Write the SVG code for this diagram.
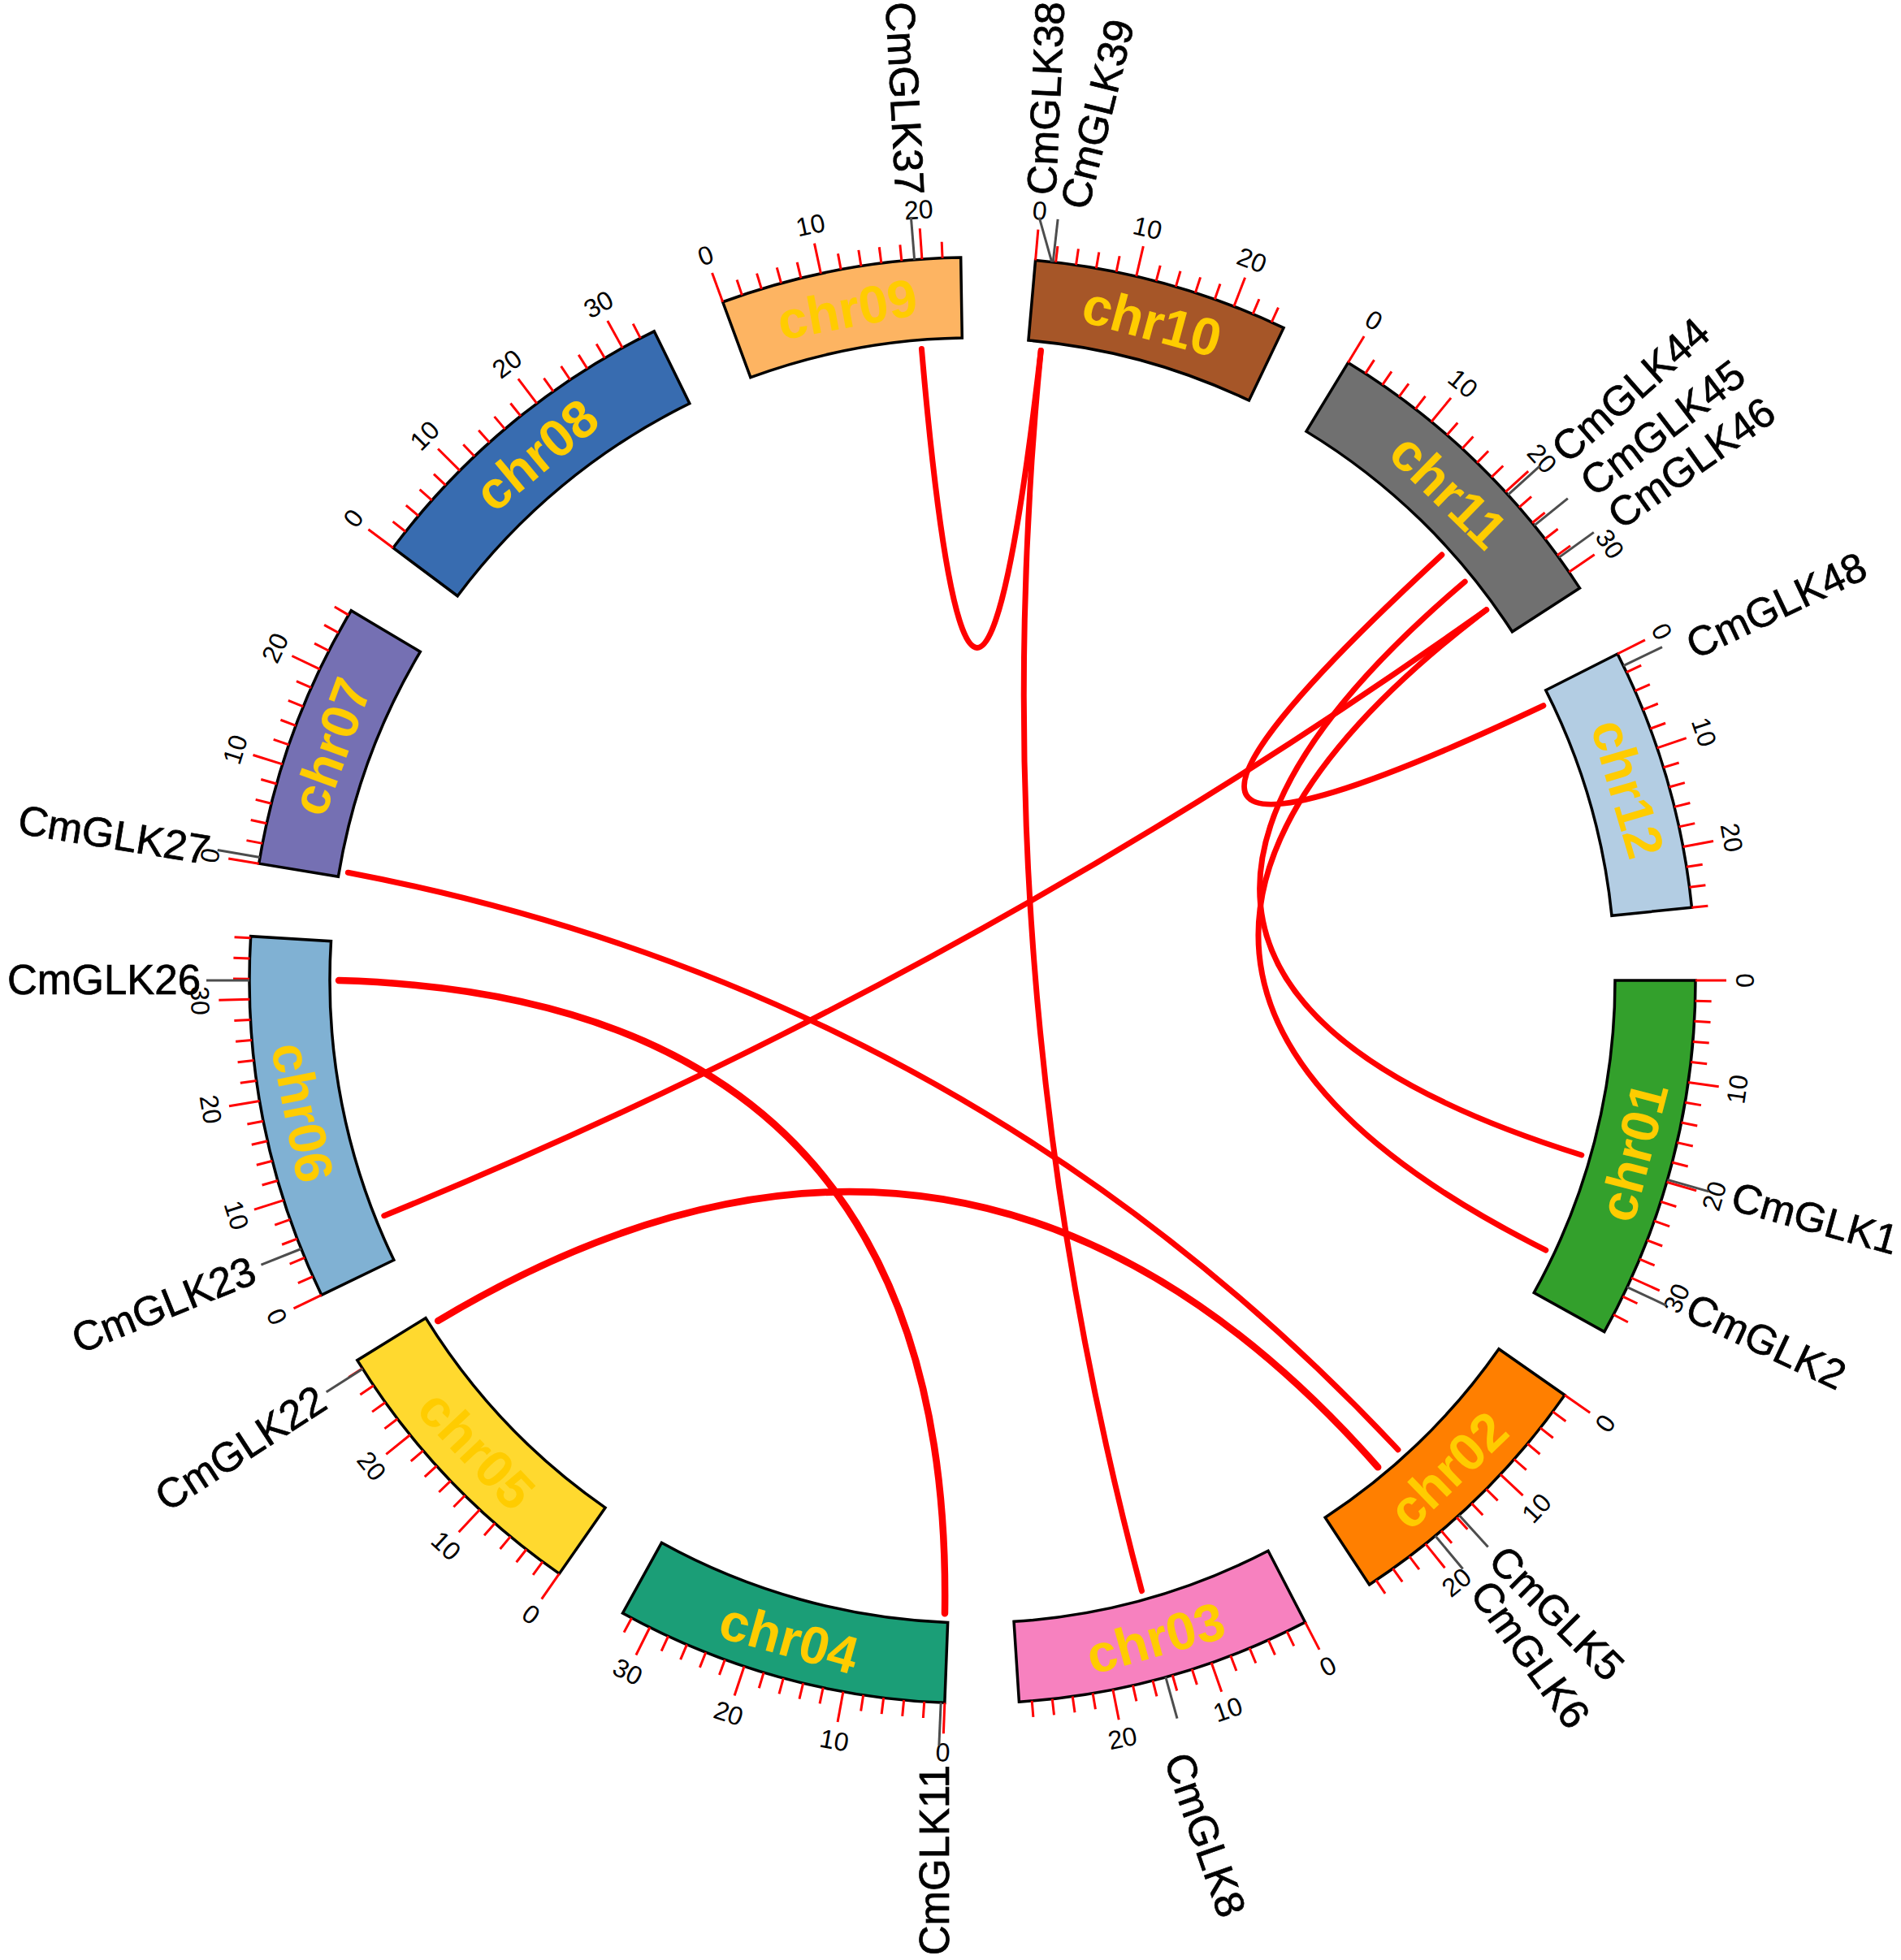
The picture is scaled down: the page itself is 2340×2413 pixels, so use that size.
<svg xmlns="http://www.w3.org/2000/svg" width="2340" height="2413" viewBox="0 0 2340 2413">
<style>
.chr{stroke:#000;stroke-width:3.5;stroke-linejoin:miter}
.cl{font-family:"Liberation Sans",Arial,sans-serif;font-weight:bold;font-size:65px;fill:#FFCC00;text-anchor:middle;dominant-baseline:central}
.tk{stroke:#FF0000;stroke-width:3}
.tl{font-family:"Liberation Sans",Arial,sans-serif;font-size:32px;fill:#000;text-anchor:middle;dominant-baseline:central}
.gl{stroke:#4D4D4D;stroke-width:3}
.gn{font-family:"Liberation Sans",Arial,sans-serif;font-size:51px;fill:#000;stroke:#000;stroke-width:0.7;dominant-baseline:central}
.e{text-anchor:end}
.lk{fill:none;stroke:#FF0000;stroke-width:7;stroke-linecap:round}
</style>
<defs>
<line id="mi" x1="2087" y1="1207" x2="2107" y2="1207"/>
<line id="ma" x1="2087" y1="1207" x2="2125" y2="1207"/>
<line id="gm" x1="2087" y1="1207" x2="2140" y2="1207"/>
</defs>
<rect width="2340" height="2413" fill="#fff"/>

<g id="links">
<path class="lk" d="M1134.44 429.51Q1197.6 1164.3 1281.24 431.56"/>
<path class="lk" d="M1281.24 431.56Q1205.05 1206.35 1405.45 1958.63"/>
<path class="lk" d="M1774.82 683.06Q1232.22 1183.29 1899.84 868.75"/>
<path class="lk" d="M1803.18 716.13Q1234.29 1199.41 1946.78 1422"/>
<path class="lk" d="M1829.63 750.73Q1233.81 1203.59 1902.77 1539.11"/>
<path class="lk" d="M1829.63 750.73Q1194.48 1202.42 472.78 1496.67"/>
<path class="lk" d="M428.38 1074.24Q1190.27 1219.24 1720.94 1784.82"/>
<path class="lk" d="M539.16 1626.09Q1192.64 1235.01 1696.16 1806.37" style="stroke-width:8.5"/>
<path class="lk" d="M417 1207Q1174.61 1228.43 1162.98 1986.26" style="stroke-width:8.5"/>
</g>

<g id="chr01">
<path class="chr" fill="#33A02C" d="M1988 1207L2087 1207A890 890 0 0 1 1974.81 1639.57L1888.29 1591.45A791 791 0 0 0 1988 1207Z"/>
<g class="tk">
<use href="#ma"/><use href="#ma" transform="rotate(8.1 1197 1207)"/><use href="#ma" transform="rotate(16.2 1197 1207)"/><use href="#ma" transform="rotate(24.3 1197 1207)"/>
<use href="#mi" transform="rotate(1.62 1197 1207)"/><use href="#mi" transform="rotate(3.24 1197 1207)"/><use href="#mi" transform="rotate(4.86 1197 1207)"/><use href="#mi" transform="rotate(6.48 1197 1207)"/><use href="#mi" transform="rotate(9.72 1197 1207)"/><use href="#mi" transform="rotate(11.34 1197 1207)"/><use href="#mi" transform="rotate(12.96 1197 1207)"/><use href="#mi" transform="rotate(14.58 1197 1207)"/><use href="#mi" transform="rotate(17.82 1197 1207)"/><use href="#mi" transform="rotate(19.44 1197 1207)"/><use href="#mi" transform="rotate(21.06 1197 1207)"/><use href="#mi" transform="rotate(22.68 1197 1207)"/><use href="#mi" transform="rotate(25.92 1197 1207)"/><use href="#mi" transform="rotate(27.54 1197 1207)"/>
</g>
<g class="tl">
<text transform="translate(2148 1207) rotate(-90)">0</text>
<text transform="rotate(8.1 1197 1207) translate(2148 1207) rotate(-90)">10</text>
<text transform="rotate(16.2 1197 1207) translate(2148 1207) rotate(-90)">20</text>
<text transform="rotate(24.3 1197 1207) translate(2148 1207) rotate(-90)">30</text>
</g>
<text class="cl" transform="rotate(14.54 1197 1207) translate(2037.5 1207) rotate(-90)">chr01</text>
<g class="gl"><use href="#gm" transform="rotate(16 1197 1207)"/><use href="#gm" transform="rotate(25.1 1197 1207)"/></g>
<text class="gn" transform="translate(2133 1472) rotate(15.5)">CmGLK1</text>
<text class="gn" transform="translate(2079 1607) rotate(25.2)">CmGLK2</text>
</g>

<g id="chr02">
<path class="chr" fill="#FF7F00" transform="rotate(35 1197 1207)" d="M1988 1207L2087 1207A890 890 0 0 1 2023.88 1536.19L1931.9 1499.58A791 791 0 0 0 1988 1207Z"/>
<g class="tk">
<use href="#ma" transform="rotate(35 1197 1207)"/><use href="#ma" transform="rotate(43.1 1197 1207)"/><use href="#ma" transform="rotate(51.2 1197 1207)"/>
<use href="#mi" transform="rotate(36.62 1197 1207)"/><use href="#mi" transform="rotate(38.24 1197 1207)"/><use href="#mi" transform="rotate(39.86 1197 1207)"/><use href="#mi" transform="rotate(41.48 1197 1207)"/><use href="#mi" transform="rotate(44.72 1197 1207)"/><use href="#mi" transform="rotate(46.34 1197 1207)"/><use href="#mi" transform="rotate(47.96 1197 1207)"/><use href="#mi" transform="rotate(49.58 1197 1207)"/><use href="#mi" transform="rotate(52.82 1197 1207)"/><use href="#mi" transform="rotate(54.44 1197 1207)"/><use href="#mi" transform="rotate(56.06 1197 1207)"/>
</g>
<g class="tl">
<text transform="rotate(35 1197 1207) translate(2148 1207) rotate(-90)">0</text>
<text transform="rotate(43.1 1197 1207) translate(2148 1207) rotate(-90)">10</text>
<text transform="rotate(51.2 1197 1207) translate(2148 1207) rotate(-90)">20</text>
</g>
<text class="cl" transform="rotate(45.85 1197 1207) translate(2037.5 1207) rotate(-90)">chr02</text>
<g class="gl"><use href="#gm" transform="rotate(47.7 1197 1207)"/><use href="#gm" transform="rotate(50.2 1197 1207)"/></g>
<text class="gn" transform="translate(1842 1912) rotate(45)">CmGLK5</text>
<text class="gn" transform="translate(1822 1952) rotate(54)">CmGLK6</text>
</g>

<g id="chr03">
<path class="chr" fill="#F781BF" transform="rotate(62.6 1197 1207)" d="M1988 1207L2087 1207A890 890 0 0 1 2011.95 1564.74L1921.3 1524.94A791 791 0 0 0 1988 1207Z"/>
<g class="tk">
<use href="#ma" transform="rotate(62.6 1197 1207)"/><use href="#ma" transform="rotate(70.7 1197 1207)"/><use href="#ma" transform="rotate(78.8 1197 1207)"/>
<use href="#mi" transform="rotate(64.22 1197 1207)"/><use href="#mi" transform="rotate(65.84 1197 1207)"/><use href="#mi" transform="rotate(67.46 1197 1207)"/><use href="#mi" transform="rotate(69.08 1197 1207)"/><use href="#mi" transform="rotate(72.32 1197 1207)"/><use href="#mi" transform="rotate(73.94 1197 1207)"/><use href="#mi" transform="rotate(75.56 1197 1207)"/><use href="#mi" transform="rotate(77.18 1197 1207)"/><use href="#mi" transform="rotate(80.42 1197 1207)"/><use href="#mi" transform="rotate(82.04 1197 1207)"/><use href="#mi" transform="rotate(83.66 1197 1207)"/><use href="#mi" transform="rotate(85.28 1197 1207)"/>
</g>
<g class="tl">
<text transform="rotate(62.6 1197 1207) translate(2148 1207) rotate(-90)">0</text>
<text transform="rotate(70.7 1197 1207) translate(2148 1207) rotate(-90)">10</text>
<text transform="rotate(78.8 1197 1207) translate(2148 1207) rotate(-90)">20</text>
</g>
<text class="cl" transform="rotate(74.45 1197 1207) translate(2037.5 1207) rotate(-90)">chr03</text>
<g class="gl"><use href="#gm" transform="rotate(74.5 1197 1207)"/></g>
<text class="gn" transform="translate(1449 2160) rotate(70.8)">CmGLK8</text>
</g>

<g id="chr04">
<path class="chr" fill="#1B9E77" transform="rotate(92.2 1197 1207)" d="M1988 1207L2087 1207A890 890 0 0 1 1991.9 1607.31L1903.48 1562.78A791 791 0 0 0 1988 1207Z"/>
<g class="tk">
<use href="#ma" transform="rotate(92.2 1197 1207)"/><use href="#ma" transform="rotate(100.3 1197 1207)"/><use href="#ma" transform="rotate(108.4 1197 1207)"/><use href="#ma" transform="rotate(116.5 1197 1207)"/>
<use href="#mi" transform="rotate(93.82 1197 1207)"/><use href="#mi" transform="rotate(95.44 1197 1207)"/><use href="#mi" transform="rotate(97.06 1197 1207)"/><use href="#mi" transform="rotate(98.68 1197 1207)"/><use href="#mi" transform="rotate(101.92 1197 1207)"/><use href="#mi" transform="rotate(103.54 1197 1207)"/><use href="#mi" transform="rotate(105.16 1197 1207)"/><use href="#mi" transform="rotate(106.78 1197 1207)"/><use href="#mi" transform="rotate(110.02 1197 1207)"/><use href="#mi" transform="rotate(111.64 1197 1207)"/><use href="#mi" transform="rotate(113.26 1197 1207)"/><use href="#mi" transform="rotate(114.88 1197 1207)"/><use href="#mi" transform="rotate(118.12 1197 1207)"/>
</g>
<g class="tl">
<text transform="rotate(92.2 1197 1207) translate(2148 1207) rotate(-90)">0</text>
<text transform="rotate(100.3 1197 1207) translate(2148 1207) rotate(-90)">10</text>
<text transform="rotate(108.4 1197 1207) translate(2148 1207) rotate(-90)">20</text>
<text transform="rotate(116.5 1197 1207) translate(2148 1207) rotate(-90)">30</text>
</g>
<text class="cl" transform="rotate(105.57 1197 1207) translate(2037.5 1207) rotate(-90)">chr04</text>
<g class="gl"><use href="#gm" transform="rotate(92.5 1197 1207)"/></g>
<text class="gn e" transform="translate(1150 2173) rotate(-90)">CmGLK11</text>
</g>

<g id="chr05">
<path class="chr" fill="#FFD92F" transform="rotate(124.85 1197 1207)" d="M1988 1207L2087 1207A890 890 0 0 1 2013.49 1561.18L1922.67 1521.78A791 791 0 0 0 1988 1207Z"/>
<g class="tk">
<use href="#ma" transform="rotate(124.85 1197 1207)"/><use href="#ma" transform="rotate(132.95 1197 1207)"/><use href="#ma" transform="rotate(141.05 1197 1207)"/>
<use href="#mi" transform="rotate(126.47 1197 1207)"/><use href="#mi" transform="rotate(128.09 1197 1207)"/><use href="#mi" transform="rotate(129.71 1197 1207)"/><use href="#mi" transform="rotate(131.33 1197 1207)"/><use href="#mi" transform="rotate(134.57 1197 1207)"/><use href="#mi" transform="rotate(136.19 1197 1207)"/><use href="#mi" transform="rotate(137.81 1197 1207)"/><use href="#mi" transform="rotate(139.43 1197 1207)"/><use href="#mi" transform="rotate(142.67 1197 1207)"/><use href="#mi" transform="rotate(144.29 1197 1207)"/><use href="#mi" transform="rotate(145.91 1197 1207)"/><use href="#mi" transform="rotate(147.53 1197 1207)"/>
</g>
<g class="tl">
<text transform="rotate(124.85 1197 1207) translate(2148 1207) rotate(-90)">0</text>
<text transform="rotate(132.95 1197 1207) translate(2148 1207) rotate(-90)">10</text>
<text transform="rotate(141.05 1197 1207) translate(2148 1207) rotate(-90)">20</text>
</g>
<text class="cl" transform="rotate(136.58 1197 1207) translate(2037.5 1207) rotate(-90)">chr05</text>
<g class="gl"><use href="#gm" transform="rotate(147.5 1197 1207)"/></g>
<text class="gn e" transform="translate(396 1718) rotate(-33)">CmGLK22</text>
</g>

<g id="chr06">
<path class="chr" fill="#80B1D3" transform="rotate(154.2 1197 1207)" d="M1988 1207L2087 1207A890 890 0 0 1 1973.14 1642.55L1886.81 1594.1A791 791 0 0 0 1988 1207Z"/>
<g class="tk">
<use href="#ma" transform="rotate(154.2 1197 1207)"/><use href="#ma" transform="rotate(162.3 1197 1207)"/><use href="#ma" transform="rotate(170.4 1197 1207)"/><use href="#ma" transform="rotate(178.5 1197 1207)"/>
<use href="#mi" transform="rotate(155.82 1197 1207)"/><use href="#mi" transform="rotate(157.44 1197 1207)"/><use href="#mi" transform="rotate(159.06 1197 1207)"/><use href="#mi" transform="rotate(160.68 1197 1207)"/><use href="#mi" transform="rotate(163.92 1197 1207)"/><use href="#mi" transform="rotate(165.54 1197 1207)"/><use href="#mi" transform="rotate(167.16 1197 1207)"/><use href="#mi" transform="rotate(168.78 1197 1207)"/><use href="#mi" transform="rotate(172.02 1197 1207)"/><use href="#mi" transform="rotate(173.64 1197 1207)"/><use href="#mi" transform="rotate(175.26 1197 1207)"/><use href="#mi" transform="rotate(176.88 1197 1207)"/><use href="#mi" transform="rotate(180.12 1197 1207)"/><use href="#mi" transform="rotate(181.74 1197 1207)"/><use href="#mi" transform="rotate(183.36 1197 1207)"/>
</g>
<g class="tl">
<text transform="rotate(154.2 1197 1207) translate(2148 1207) rotate(-90)">0</text>
<text transform="rotate(162.3 1197 1207) translate(2148 1207) rotate(-90)">10</text>
<text transform="rotate(170.4 1197 1207) translate(2148 1207) rotate(-90)">20</text>
<text transform="rotate(178.5 1197 1207) translate(2148 1207) rotate(-90)">30</text>
</g>
<text class="cl" transform="rotate(168.85 1197 1207) translate(2037.5 1207) rotate(-90)">chr06</text>
<g class="gl"><use href="#gm" transform="rotate(158.2 1197 1207)"/><use href="#gm" transform="rotate(180 1197 1207)"/></g>
<text class="gn e" transform="translate(312 1562) rotate(-21.9)">CmGLK23</text>
<text class="gn e" transform="translate(247 1206)">CmGLK26</text>
</g>

<g id="chr07">
<path class="chr" fill="#7570B3" transform="rotate(189.3 1197 1207)" d="M1988 1207L2087 1207A890 890 0 0 1 2025.27 1532.69L1933.14 1496.46A791 791 0 0 0 1988 1207Z"/>
<g class="tk">
<use href="#ma" transform="rotate(189.3 1197 1207)"/><use href="#ma" transform="rotate(197.4 1197 1207)"/><use href="#ma" transform="rotate(205.5 1197 1207)"/>
<use href="#mi" transform="rotate(190.92 1197 1207)"/><use href="#mi" transform="rotate(192.54 1197 1207)"/><use href="#mi" transform="rotate(194.16 1197 1207)"/><use href="#mi" transform="rotate(195.78 1197 1207)"/><use href="#mi" transform="rotate(199.02 1197 1207)"/><use href="#mi" transform="rotate(200.64 1197 1207)"/><use href="#mi" transform="rotate(202.26 1197 1207)"/><use href="#mi" transform="rotate(203.88 1197 1207)"/><use href="#mi" transform="rotate(207.12 1197 1207)"/><use href="#mi" transform="rotate(208.74 1197 1207)"/><use href="#mi" transform="rotate(210.36 1197 1207)"/>
</g>
<g class="tl">
<text transform="rotate(189.3 1197 1207) translate(2148 1207) rotate(90)">0</text>
<text transform="rotate(197.4 1197 1207) translate(2148 1207) rotate(90)">10</text>
<text transform="rotate(205.5 1197 1207) translate(2148 1207) rotate(90)">20</text>
</g>
<text class="cl" transform="rotate(200.03 1197 1207) translate(2037.5 1207) rotate(90)">chr07</text>
<g class="gl"><use href="#gm" transform="rotate(189.8 1197 1207)"/></g>
<text class="gn e" transform="translate(258 1047) rotate(9.3)">CmGLK27</text>
</g>

<g id="chr08">
<path class="chr" fill="#386CB0" transform="rotate(216.75 1197 1207)" d="M1988 1207L2087 1207A890 890 0 0 1 1989.05 1612.92L1900.94 1567.77A791 791 0 0 0 1988 1207Z"/>
<g class="tk">
<use href="#ma" transform="rotate(216.75 1197 1207)"/><use href="#ma" transform="rotate(224.85 1197 1207)"/><use href="#ma" transform="rotate(232.95 1197 1207)"/><use href="#ma" transform="rotate(241.05 1197 1207)"/>
<use href="#mi" transform="rotate(218.37 1197 1207)"/><use href="#mi" transform="rotate(219.99 1197 1207)"/><use href="#mi" transform="rotate(221.61 1197 1207)"/><use href="#mi" transform="rotate(223.23 1197 1207)"/><use href="#mi" transform="rotate(226.47 1197 1207)"/><use href="#mi" transform="rotate(228.09 1197 1207)"/><use href="#mi" transform="rotate(229.71 1197 1207)"/><use href="#mi" transform="rotate(231.33 1197 1207)"/><use href="#mi" transform="rotate(234.57 1197 1207)"/><use href="#mi" transform="rotate(236.19 1197 1207)"/><use href="#mi" transform="rotate(237.81 1197 1207)"/><use href="#mi" transform="rotate(239.43 1197 1207)"/><use href="#mi" transform="rotate(242.67 1197 1207)"/>
</g>
<g class="tl">
<text transform="rotate(216.75 1197 1207) translate(2148 1207) rotate(90)">0</text>
<text transform="rotate(224.85 1197 1207) translate(2148 1207) rotate(90)">10</text>
<text transform="rotate(232.95 1197 1207) translate(2148 1207) rotate(90)">20</text>
<text transform="rotate(241.05 1197 1207) translate(2148 1207) rotate(90)">30</text>
</g>
<text class="cl" transform="rotate(230.32 1197 1207) translate(2037.5 1207) rotate(90)">chr08</text>
</g>

<g id="chr09">
<path class="chr" fill="#FDB462" transform="rotate(249.8 1197 1207)" d="M1988 1207L2087 1207A890 890 0 0 1 2037.11 1500.84L1943.66 1468.16A791 791 0 0 0 1988 1207Z"/>
<g class="tk">
<use href="#ma" transform="rotate(249.8 1197 1207)"/><use href="#ma" transform="rotate(257.9 1197 1207)"/><use href="#ma" transform="rotate(266 1197 1207)"/>
<use href="#mi" transform="rotate(251.42 1197 1207)"/><use href="#mi" transform="rotate(253.04 1197 1207)"/><use href="#mi" transform="rotate(254.66 1197 1207)"/><use href="#mi" transform="rotate(256.28 1197 1207)"/><use href="#mi" transform="rotate(259.52 1197 1207)"/><use href="#mi" transform="rotate(261.14 1197 1207)"/><use href="#mi" transform="rotate(262.76 1197 1207)"/><use href="#mi" transform="rotate(264.38 1197 1207)"/><use href="#mi" transform="rotate(267.62 1197 1207)"/>
</g>
<g class="tl">
<text transform="rotate(249.8 1197 1207) translate(2148 1207) rotate(90)">0</text>
<text transform="rotate(257.9 1197 1207) translate(2148 1207) rotate(90)">10</text>
<text transform="rotate(266 1197 1207) translate(2148 1207) rotate(90)">20</text>
</g>
<text class="cl" transform="rotate(259.44 1197 1207) translate(2037.5 1207) rotate(90)">chr09</text>
<g class="gl"><use href="#gm" transform="rotate(265.4 1197 1207)"/></g>
<text class="gn e" transform="translate(1120 240) rotate(87)">CmGLK37</text>
</g>

<g id="chr10">
<path class="chr" fill="#A65628" transform="rotate(275 1197 1207)" d="M1988 1207L2087 1207A890 890 0 0 1 2030.67 1518.58L1937.94 1483.92A791 791 0 0 0 1988 1207Z"/>
<g class="tk">
<use href="#ma" transform="rotate(275 1197 1207)"/><use href="#ma" transform="rotate(283.1 1197 1207)"/><use href="#ma" transform="rotate(291.2 1197 1207)"/>
<use href="#mi" transform="rotate(276.62 1197 1207)"/><use href="#mi" transform="rotate(278.24 1197 1207)"/><use href="#mi" transform="rotate(279.86 1197 1207)"/><use href="#mi" transform="rotate(281.48 1197 1207)"/><use href="#mi" transform="rotate(284.72 1197 1207)"/><use href="#mi" transform="rotate(286.34 1197 1207)"/><use href="#mi" transform="rotate(287.96 1197 1207)"/><use href="#mi" transform="rotate(289.58 1197 1207)"/><use href="#mi" transform="rotate(292.82 1197 1207)"/><use href="#mi" transform="rotate(294.44 1197 1207)"/>
</g>
<g class="tl">
<text transform="rotate(275 1197 1207) translate(2148 1207) rotate(90)">0</text>
<text transform="rotate(283.1 1197 1207) translate(2148 1207) rotate(90)">10</text>
<text transform="rotate(291.2 1197 1207) translate(2148 1207) rotate(90)">20</text>
</g>
<text class="cl" transform="rotate(285.25 1197 1207) translate(2037.5 1207) rotate(90)">chr10</text>
<g class="gl"><line x1="1294.66" y1="322.38" x2="1279.19" y2="267.59"/><use href="#gm" transform="rotate(276.4 1197 1207)"/></g>
<text class="gn" transform="translate(1282 240) rotate(-87.4)">CmGLK38</text>
<text class="gn" transform="translate(1322 256) rotate(-76)">CmGLK39</text>
</g>

<g id="chr11">
<path class="chr" fill="#707070" transform="rotate(301.3 1197 1207)" d="M1988 1207L2087 1207A890 890 0 0 1 1998.02 1594.9L1908.92 1551.75A791 791 0 0 0 1988 1207Z"/>
<g class="tk">
<use href="#ma" transform="rotate(301.3 1197 1207)"/><use href="#ma" transform="rotate(309.4 1197 1207)"/><use href="#ma" transform="rotate(317.5 1197 1207)"/><use href="#ma" transform="rotate(325.6 1197 1207)"/>
<use href="#mi" transform="rotate(302.92 1197 1207)"/><use href="#mi" transform="rotate(304.54 1197 1207)"/><use href="#mi" transform="rotate(306.16 1197 1207)"/><use href="#mi" transform="rotate(307.78 1197 1207)"/><use href="#mi" transform="rotate(311.02 1197 1207)"/><use href="#mi" transform="rotate(312.64 1197 1207)"/><use href="#mi" transform="rotate(314.26 1197 1207)"/><use href="#mi" transform="rotate(315.88 1197 1207)"/><use href="#mi" transform="rotate(319.12 1197 1207)"/><use href="#mi" transform="rotate(320.74 1197 1207)"/><use href="#mi" transform="rotate(322.36 1197 1207)"/><use href="#mi" transform="rotate(323.98 1197 1207)"/>
</g>
<g class="tl">
<text transform="rotate(301.3 1197 1207) translate(2148 1207) rotate(90)">0</text>
<text transform="rotate(309.4 1197 1207) translate(2148 1207) rotate(90)">10</text>
<text transform="rotate(317.5 1197 1207) translate(2148 1207) rotate(90)">20</text>
<text transform="rotate(325.6 1197 1207) translate(2148 1207) rotate(90)">30</text>
</g>
<text class="cl" transform="rotate(314.22 1197 1207) translate(2037.5 1207) rotate(90)">chr11</text>
<g class="gl"><use href="#gm" transform="rotate(317.8 1197 1207)"/><use href="#gm" transform="rotate(321 1197 1207)"/><use href="#gm" transform="rotate(324.2 1197 1207)"/></g>
<text class="gn" transform="translate(1918 559) rotate(-41.5)">CmGLK44</text>
<text class="gn" transform="translate(1952 599) rotate(-37.3)">CmGLK45</text>
<text class="gn" transform="translate(1985 639) rotate(-35.4)">CmGLK46</text>
</g>

<g id="chr12">
<path class="chr" fill="#B3CDE3" transform="rotate(333.15 1197 1207)" d="M1988 1207L2087 1207A890 890 0 0 1 2027.55 1526.82L1935.16 1491.25A791 791 0 0 0 1988 1207Z"/>
<g class="tk">
<use href="#ma" transform="rotate(333.15 1197 1207)"/><use href="#ma" transform="rotate(341.25 1197 1207)"/><use href="#ma" transform="rotate(349.35 1197 1207)"/>
<use href="#mi" transform="rotate(334.77 1197 1207)"/><use href="#mi" transform="rotate(336.39 1197 1207)"/><use href="#mi" transform="rotate(338.01 1197 1207)"/><use href="#mi" transform="rotate(339.63 1197 1207)"/><use href="#mi" transform="rotate(342.87 1197 1207)"/><use href="#mi" transform="rotate(344.49 1197 1207)"/><use href="#mi" transform="rotate(346.11 1197 1207)"/><use href="#mi" transform="rotate(347.73 1197 1207)"/><use href="#mi" transform="rotate(350.97 1197 1207)"/><use href="#mi" transform="rotate(352.59 1197 1207)"/><use href="#mi" transform="rotate(354.21 1197 1207)"/>
</g>
<g class="tl">
<text transform="rotate(333.15 1197 1207) translate(2148 1207) rotate(90)">0</text>
<text transform="rotate(341.25 1197 1207) translate(2148 1207) rotate(90)">10</text>
<text transform="rotate(349.35 1197 1207) translate(2148 1207) rotate(90)">20</text>
</g>
<text class="cl" transform="rotate(343.68 1197 1207) translate(2037.5 1207) rotate(90)">chr12</text>
<g class="gl"><use href="#gm" transform="rotate(334.2 1197 1207)"/></g>
<text class="gn" transform="translate(2079 796.5) rotate(-25.4)">CmGLK48</text>
</g>
</svg>
